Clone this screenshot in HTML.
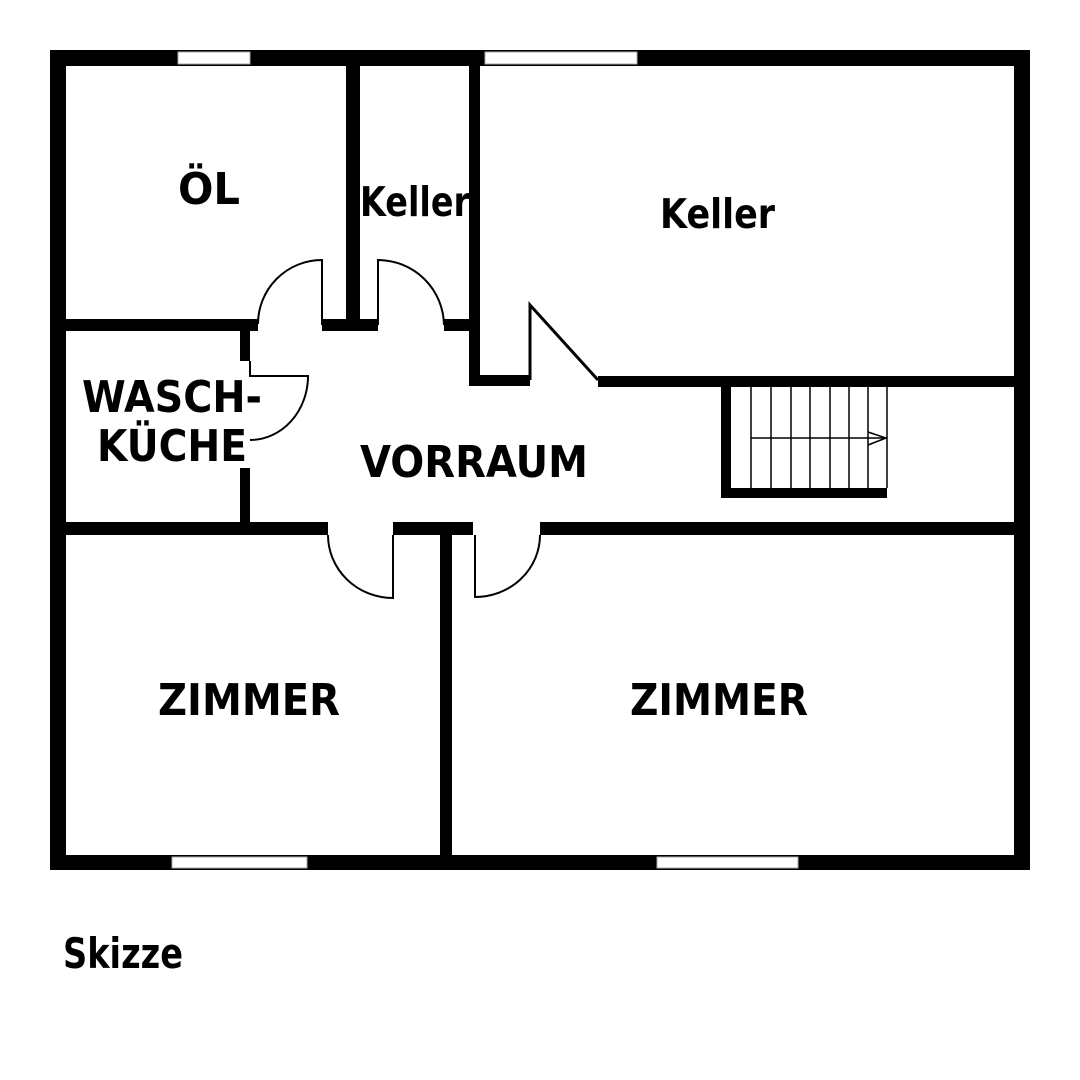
<!DOCTYPE html>
<html><head><meta charset="utf-8"><style>html,body{margin:0;padding:0;background:#fff}svg{display:block}</style></head>
<body>
<svg width="1080" height="1080" viewBox="0 0 1080 1080" xmlns="http://www.w3.org/2000/svg">
<rect width="1080" height="1080" fill="#fff"/>
<g fill="#000">
<rect x="50" y="50" width="980" height="16"/>
<rect x="50" y="50" width="16" height="820"/>
<rect x="1014" y="50" width="16" height="820"/>
<rect x="50" y="855" width="980" height="15"/>
<rect x="346" y="50" width="14" height="281"/>
<rect x="50" y="319" width="208" height="12"/>
<rect x="322" y="319" width="56" height="12"/>
<rect x="444" y="319" width="36" height="12"/>
<rect x="469" y="50" width="11" height="336"/>
<rect x="469" y="375" width="61" height="11"/>
<rect x="598" y="376" width="416" height="11"/>
<rect x="240" y="331" width="10" height="30"/>
<rect x="240" y="468" width="10" height="60"/>
<rect x="50" y="522" width="278" height="13"/>
<rect x="393" y="522" width="80" height="13"/>
<rect x="540" y="522" width="474" height="13"/>
<rect x="440" y="535" width="12" height="320"/>
<rect x="721" y="387" width="10" height="111"/>
<rect x="721" y="488" width="166" height="10"/>
</g>
<g fill="#fff" stroke="#aaa" stroke-width="1">
<rect x="178" y="52" width="72" height="12"/>
<rect x="485" y="52" width="152" height="12"/>
<rect x="172" y="857" width="135" height="11"/>
<rect x="657" y="857" width="141" height="11"/>
</g>
<g fill="none" stroke="#000" stroke-width="2">
<path d="M322 325 V260 A64 64 0 0 0 258 324"/>
<path d="M378 325 V260 A66 66 0 0 1 444 325"/>
<path d="M250 361 V376 H308 A58 64 0 0 1 250 440"/>
<path d="M393 535 V598 A65 63 0 0 1 328 535"/>
<path d="M475 535 V597 A65 62 0 0 0 540 535"/>
<path d="M530 380 V305 L598 380" stroke-width="3" stroke-linejoin="miter"/>
<g stroke-width="1.5">
<line x1="751" y1="387" x2="751" y2="488"/>
<line x1="771" y1="387" x2="771" y2="488"/>
<line x1="791" y1="387" x2="791" y2="488"/>
<line x1="810" y1="387" x2="810" y2="488"/>
<line x1="830" y1="387" x2="830" y2="488"/>
<line x1="849" y1="387" x2="849" y2="488"/>
<line x1="868" y1="387" x2="868" y2="488"/>
<line x1="887" y1="387" x2="887" y2="488"/>
<line x1="751" y1="438" x2="887" y2="438"/>
<path d="M868 432 L886 438 L868 445"/>
</g>
</g>
<g font-family="'DejaVu Sans','Liberation Sans',sans-serif" font-weight="bold" fill="#000" font-size="44">
<text x="178" y="204" textLength="62" lengthAdjust="spacingAndGlyphs">ÖL</text>
<text x="360" y="216" font-size="41" textLength="110" lengthAdjust="spacingAndGlyphs">Keller</text>
<text x="660" y="228" font-size="41" textLength="115" lengthAdjust="spacingAndGlyphs">Keller</text>
<text x="82" y="412" textLength="180" lengthAdjust="spacingAndGlyphs">WASCH-</text>
<text x="97" y="461" textLength="150" lengthAdjust="spacingAndGlyphs">KÜCHE</text>
<text x="360" y="477" textLength="228" lengthAdjust="spacingAndGlyphs">VORRAUM</text>
<text x="158" y="715" textLength="182" lengthAdjust="spacingAndGlyphs">ZIMMER</text>
<text x="630" y="715" textLength="178" lengthAdjust="spacingAndGlyphs">ZIMMER</text>
<text x="63" y="968" font-size="42" textLength="120" lengthAdjust="spacingAndGlyphs">Skizze</text>
</g>
</svg>
</body></html>
